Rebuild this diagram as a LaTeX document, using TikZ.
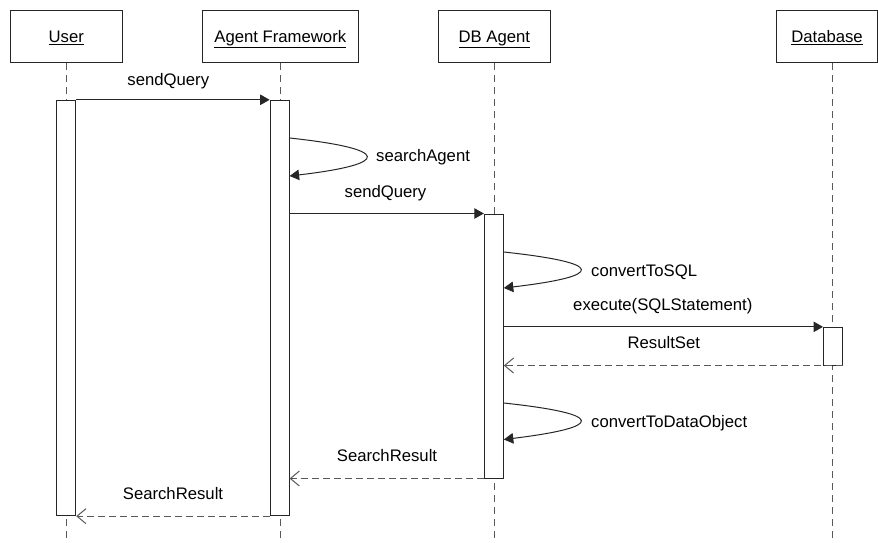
\documentclass[tikz,border=0pt]{standalone}
\usepackage{fontspec}
\setmainfont{Liberation Sans}
\usetikzlibrary{arrows.meta}
\begin{document}
\begin{tikzpicture}[x=1pt,y=-1pt,
  font=\fontsize{16.7}{19}\selectfont,
  every node/.style={text=black},
  actor/.style={draw=black!85, line width=1pt, fill=white, minimum height=52.5pt, text height=12pt, text depth=0pt, inner sep=0pt},
  bar/.style={draw=black!85, line width=1pt, fill=white, minimum width=19pt, inner sep=0pt},
  life/.style={draw=black!65, line width=1pt, dash pattern=on 7pt off 5pt},
  msg/.style={draw=black!85, line width=1pt, -{Triangle[length=9.5pt,width=10.5pt]}},
  ret/.style={draw=black!65, line width=1pt, dash pattern=on 7pt off 4pt, -{Straight Barb[length=9pt,width=15pt,line width=1pt]}},
  lbl/.style={inner sep=0pt}
]
\useasboundingbox (0,0) rectangle (878,543);
% actor boxes
\node[actor, minimum width=112.5pt] (user) at (66.3,36.3) {\underline{User}};
\node[actor, minimum width=156pt] (af) at (280.3,36.3) {\underline{Agent Framework}};
\node[actor, minimum width=112.5pt] (dba) at (494.3,36.3) {\underline{DB Agent}};
\node[actor, minimum width=101pt] (db) at (827,36.3) {\underline{Database}};
% lifeline ends
\coordinate (userend) at (66.3,543);
\coordinate (afend) at (280.3,543);
\coordinate (dbaend) at (494.3,543);
\coordinate (dbend) at (832.7,543);
\draw[life] (user.south) -- (userend);
\draw[life] (af.south) -- (afend);
\draw[life] (dba.south) -- (dbaend);
\draw[life] (db.south -| dbend) -- (dbend);
% activation bars
\node[bar, minimum height=415.4pt] (ubar) at (66.2,308) {};
\node[bar, minimum height=415.4pt] (afbar) at (279.6,308) {};
\node[bar, minimum height=264pt] (dbbar) at (493.8,346) {};
\node[bar, minimum height=37.7pt] (dsbar) at (833,346.2) {};
% messages
\draw[msg] (ubar.north east) -- (afbar.north west);
\node[lbl, anchor=base] (l1) at (168.3,85) {sendQuery};

\draw[msg] (afbar.east |- 0,138) .. controls (391.7,149) and (391.7,164) .. (afbar.east |- 0,176);
\node[lbl, anchor=base west] (l2) at (376,161.5) {searchAgent};

\draw[msg] (afbar.east |- dbbar.north) -- (dbbar.north west);
\node[lbl, anchor=base] (l3) at (385.5,197.7) {sendQuery};

\draw[msg] (dbbar.east |- 0,252) .. controls (605.7,263) and (605.7,276) .. (dbbar.east |- 0,288);
\node[lbl, anchor=base west] (l4) at (591,276) {convertToSQL};

\draw[msg] (dbbar.east |- dsbar.north) -- (dsbar.north west);
\node[lbl, anchor=base] (l5) at (662.8,310.7) {execute(SQLStatement)};

\draw[ret] (dsbar.south east) -- (dbbar.east |- dsbar.south);
\node[lbl, anchor=base] (l6) at (663.8,348.3) {ResultSet};

\draw[msg] (dbbar.east |- 0,403) .. controls (605.7,414) and (605.7,427) .. (dbbar.east |- 0,439.5);
\node[lbl, anchor=base west] (l7) at (591,427) {convertToDataObject};

\draw[ret] (dbbar.south west) -- (afbar.east |- dbbar.south);
\node[lbl, anchor=base] (l8) at (387,461) {SearchResult};

\draw[ret] (afbar.south west) -- (ubar.south east);
\node[lbl, anchor=base] (l9) at (173,499.3) {SearchResult};
\end{tikzpicture}
\end{document}
